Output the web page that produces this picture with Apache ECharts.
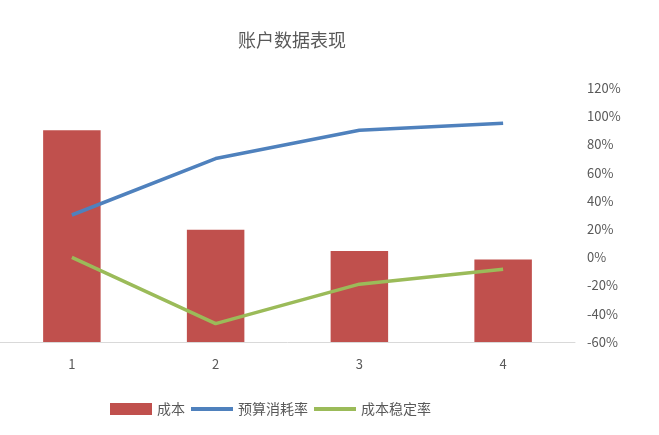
<!DOCTYPE html>
<html>
<head>
<meta charset="utf-8">
<script src="https://cdn.jsdelivr.net/npm/echarts@6/dist/echarts.min.js"></script>
<style>
  html, body { margin: 0; padding: 0; background: #fff; }
  #chart { width: 659px; height: 435px; }
</style>
</head>
<body>
<div id="chart"></div>
<script>
const categories = ["1", "2", "3", "4"];
const cost = [100, 53, 43, 39];
const budgetRate = [30, 70, 90, 95];
const costStableRate = [0, -47, -19, -8.5];

const chart = echarts.init(document.getElementById("chart"));
const font = "'Noto Sans CJK SC', 'Noto Sans', sans-serif";
// thin bar used as the legend icon of the two lines
const lineIcon = "path://M0,0 L42,0 L42,4 L0,4 Z";

chart.setOption({
  textStyle: { fontFamily: font },
  title: {
    text: "账户数据表现",
    left: 287,
    textAlign: "center",
    top: 26,
    textStyle: { fontSize: 18, fontWeight: "normal", color: "#595959", fontFamily: font }
  },
  legend: {
    bottom: 14,
    left: 105,
    itemWidth: 42,
    itemHeight: 12,
    itemGap: 6,
    textStyle: { fontSize: 14, color: "#595959" },
    data: [
      { name: "成本", icon: "rect" },
      { name: "预算消耗率", icon: lineIcon },
      { name: "成本稳定率", icon: lineIcon }
    ]
  },
  grid: { left: 0, right: 84, top: 88, bottom: 93 },
  xAxis: {
    type: "category",
    data: categories,
    axisLine: { lineStyle: { color: "#d9d9d9", width: 1 } },
    axisTick: { show: false },
    axisLabel: { color: "#595959", fontSize: 13, margin: 16 }
  },
  yAxis: [
    { type: "value", min: 0, max: 120, show: false, splitLine: { show: false } },
    {
      type: "value",
      position: "right",
      min: -60,
      max: 120,
      interval: 20,
      axisLine: { show: false },
      axisTick: { show: false },
      splitLine: { show: false },
      axisLabel: { formatter: "{value}%", color: "#595959", fontSize: 13, margin: 12 }
    }
  ],
  series: [
    {
      name: "成本",
      type: "bar",
      yAxisIndex: 0,
      barWidth: "40%",
      itemStyle: { color: "#C0504D" },
      data: cost
    },
    {
      name: "预算消耗率",
      type: "line",
      yAxisIndex: 1,
      symbol: "none",
      lineStyle: { color: "#4F81BD", width: 3.5 },
      itemStyle: { color: "#4F81BD" },
      data: budgetRate
    },
    {
      name: "成本稳定率",
      type: "line",
      yAxisIndex: 1,
      symbol: "none",
      lineStyle: { color: "#9BBB59", width: 3.5 },
      itemStyle: { color: "#9BBB59" },
      data: costStableRate
    }
  ]
});
</script>
</body>
</html>
